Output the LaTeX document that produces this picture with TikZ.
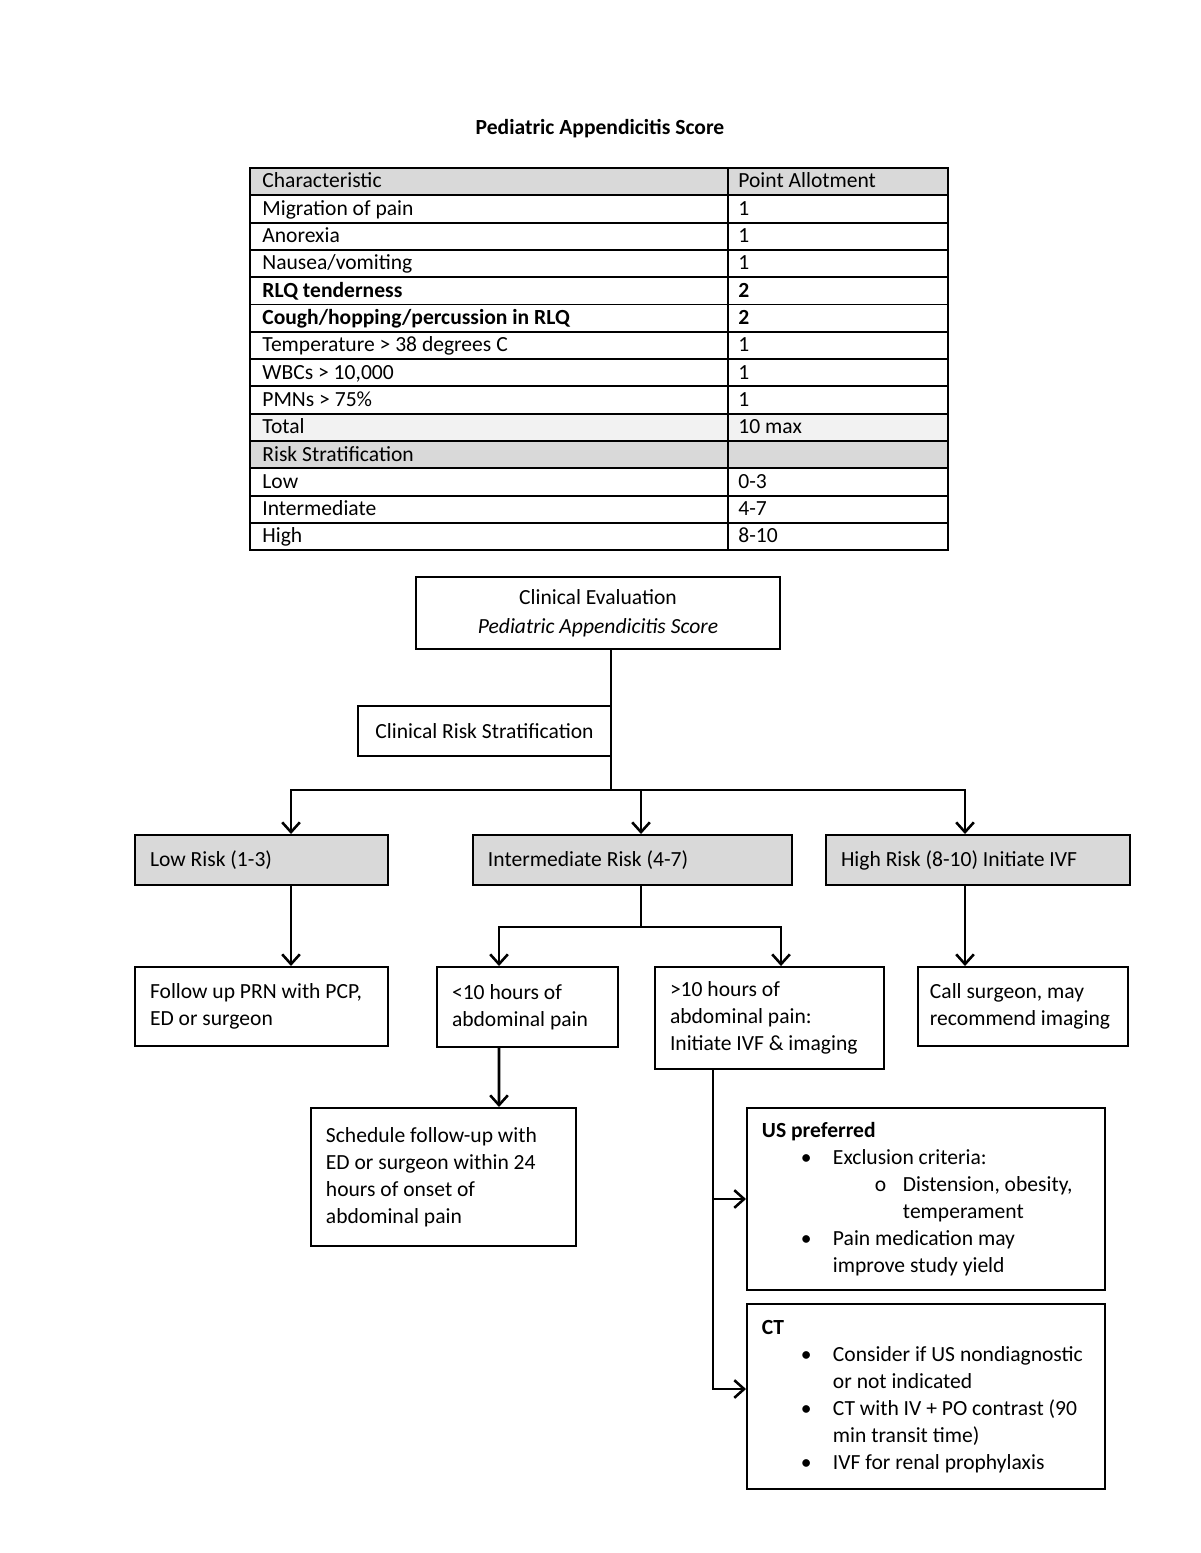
\documentclass[tikz,border=0pt]{standalone}
\usepackage{fontspec}
\setmainfont{Carlito}
\usetikzlibrary{arrows.meta}
\definecolor{boxgray}{RGB}{217,217,217}
\definecolor{rowgray}{RGB}{242,242,242}
\newlength{\px}
\setlength{\px}{0.51pt}

\begin{document}
\begin{tikzpicture}[x=0.51pt,y=-0.51pt,
  box/.style={draw,line width=1pt,inner sep=0pt,font=\fontsize{11}{13.8}\selectfont},
  lbox/.style={box,align=flush left,inner xsep=15*\px},
  riskbox/.style={lbox,fill=boxgray},
  link/.style={line width=1.3pt},
  arr/.style={link,-{Straight Barb[length=5pt,width=9pt]}},
  cell/.style={anchor=base west,inner sep=0pt,font=\fontsize{11}{13.8}\selectfont}]
\useasboundingbox (0,0) rectangle (1200,1553);
% score table
\node[font=\bfseries\fontsize{11}{13.8}\selectfont] (title) at (600,129) {Pediatric Appendicitis Score};
\fill[boxgray] (250,168) rectangle (948,195.3);
\fill[rowgray] (250,413.7) rectangle (948,441);
\fill[boxgray] (250,441) rectangle (948,468.3);
\foreach \i in {1,...,13}
  \draw[line width=1pt] (250,168+27.3*\i) -- (948,168+27.3*\i);
\draw[line width=1pt] (728,168) -- (728,550);
\draw[line width=1.2pt] (250,168) rectangle (948,550);
\foreach \txt/\pts [count=\i from 0] in {Characteristic/Point Allotment, Migration of pain/1,
    Anorexia/1, {Nausea/vomiting}/1, \textbf{RLQ tenderness}/\textbf{2},
    {\textbf{Cough/hopping/percussion in RLQ}}/\textbf{2}, Temperature > 38 degrees C/1,
    {WBCs > 10,000}/1, PMNs > 75\%/1, Total/10 max, Risk Stratification/{},
    Low/0-3, Intermediate/4-7, High/8-10}
{
  \node[cell] (ch\i) at (262,188+27.3*\i) {\txt};
  \node[cell] (pt\i) at (738,188+27.3*\i) {\pts};
}
% flow chart
\node[box,minimum width=185.6pt,minimum height=36.7pt,align=center] (eval) at (598,613)
  {Clinical Evaluation\\[1pt]\textit{Pediatric Appendicitis Score}};
\node[box,minimum width=129pt,minimum height=25.5pt] (strat) at (484.5,731) {Clinical Risk Stratification};
\node[riskbox,text width=113.7pt,minimum height=25.5pt] (low) at (261.5,860) {Low Risk (1-3)};
\node[riskbox,text width=147.4pt,minimum height=25.5pt] (mid) at (632.5,860) {Intermediate Risk (4-7)};
\node[riskbox,text width=139.7pt,minimum height=25.5pt] (high) at (978,860) {High Risk (8-10) Initiate IVF};
\node[lbox,text width=113.7pt,minimum height=40.3pt] (follow) at (261.5,1006.5)
  {Follow up PRN with PCP,\\ED or surgeon};
\node[lbox,text width=77pt,minimum height=40.8pt] (short) at (527.5,1007)
  {<10 hours of\\abdominal pain};
\node[lbox,text width=101.5pt,minimum height=52pt] (long) at (769.5,1018)
  {>10 hours of\\abdominal pain:\\Initiate IVF \& imaging};
\node[lbox,inner xsep=12*\px,text width=94.9pt,minimum height=40.3pt] (call) at (1023,1006.5)
  {Call surgeon, may\\recommend imaging};
\node[lbox,text width=119.9pt,minimum height=70.4pt] (sched) at (443.5,1177)
  {Schedule follow-up with\\ED or surgeon within 24\\hours of onset of\\abdominal pain};
\node[lbox,text width=167.3pt,minimum height=92.8pt] (us) at (926,1199)
  {\textbf{US preferred}\\
   \hspace*{39\px}\makebox[32\px][l]{\textbullet}Exclusion criteria:\\
   \hspace*{113\px}\makebox[28\px][l]{o}Distension, obesity,\\
   \hspace*{141\px}temperament\\
   \hspace*{39\px}\makebox[32\px][l]{\textbullet}Pain medication may\\
   \hspace*{71\px}improve study yield};
\node[lbox,text width=167.3pt,minimum height=94.4pt] (ct) at (926,1396.5)
  {\textbf{CT}\\
   \hspace*{39\px}\makebox[32\px][l]{\textbullet}Consider if US nondiagnostic\\
   \hspace*{71\px}or not indicated\\
   \hspace*{39\px}\makebox[32\px][l]{\textbullet}CT with IV + PO contrast (90\\
   \hspace*{71\px}min transit time)\\
   \hspace*{39\px}\makebox[32\px][l]{\textbullet}IVF for renal prophylaxis};
% connectors
\coordinate (split) at (611,790);
\draw[link] (eval.south -| split) -- (split);
\draw[arr] (split) -| ([xshift=29.5*\px]low.north);
\draw[arr] (split) -| ([xshift=-13*\px]high.north);
\draw[arr] (split) -| ([xshift=8.5*\px]mid.north);
\draw[arr] ([xshift=29.5*\px]low.south) -- ([xshift=29.5*\px]follow.north);
\coordinate (hd) at ([xshift=-13*\px]high.south);
\draw[arr] (hd) -- (hd |- call.north);
\coordinate (md) at ([xshift=8.5*\px]mid.south);
\coordinate (msplit) at ([yshift=-41*\px]md);
\draw[link] (md) -- (msplit);
\draw[arr] (msplit) -| ([xshift=-28.5*\px]short.north);
\draw[arr] (msplit) -| ([xshift=11.5*\px]long.north);
\draw[arr] ([xshift=-28.5*\px]short.south) -- ([xshift=55.5*\px]sched.north);
\coordinate (ld) at ([xshift=-56.5*\px]long.south);
\draw[arr] (ld) |- (us.west);
\draw[arr] (ld) |- ([yshift=7.5*\px]ct.west);
\end{tikzpicture}
\end{document}
